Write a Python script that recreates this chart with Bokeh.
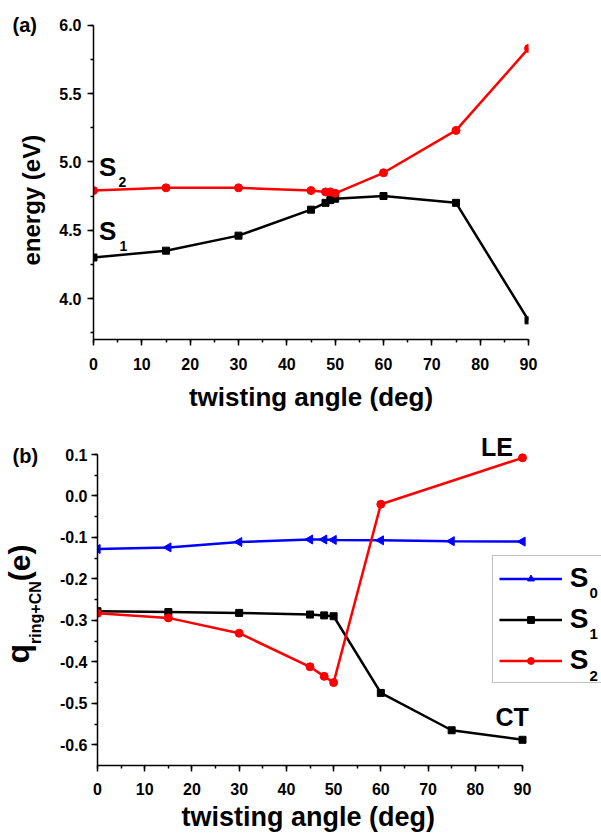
import numpy as np
from bokeh.plotting import figure
from bokeh.models import (Range1d, SingleIntervalTicker, PrintfTickFormatter,
                          Label, Legend, LegendItem, Title)
from bokeh.layouts import column, row
from bokeh.embed import file_html
from bokeh.resources import INLINE

FONT = "Liberation Sans"

# ---------------- data: panel (a) ----------------
angle_a = [0, 15, 30, 45, 48, 49, 50, 60, 75, 90]
energy_S1 = [4.30, 4.35, 4.46, 4.65, 4.70, 4.72, 4.73, 4.75, 4.70, 3.84]
energy_S2 = [4.79, 4.81, 4.81, 4.79, 4.78, 4.78, 4.77, 4.92, 5.23, 5.83]

# ---------------- data: panel (b) ----------------
angle_b = [0, 15, 30, 45, 48, 50, 60, 75, 90]
q_S0 = [-0.128, -0.124, -0.111, -0.105, -0.105, -0.106, -0.107, -0.109, -0.110]
q_S1 = [-0.278, -0.280, -0.282, -0.286, -0.288, -0.290, -0.475, -0.565, -0.588]
angle_b_S2 = [0, 15, 30, 45, 48, 50, 60, 90]
q_S2 = [-0.283, -0.294, -0.331, -0.412, -0.435, -0.450, -0.020, 0.092]

x_title = "twisting angle (deg)"
legend_names = ["S", "S", "S"]
legend_subs = ["0", "1", "2"]

# ---------------- geometry (pixels) ----------------
STRIP_W = 46
W_MAIN = 601 - STRIP_W
H_A, H_B = 414, 423
A_X0, A_X90, A_YTOP, A_YBOT = 93, 528, 25, 343
B_X0, B_X90, B_YTOP, B_YBOT = 97, 522, 454, 765
B_TOP = H_A

a_ppx = (A_X90 - A_X0) / 90.0
a_ppy = (A_YBOT - A_YTOP) / (6.0 - 3.7)
b_ppx = (B_X90 - B_X0) / 90.0
b_ppy = (B_YBOT - B_YTOP) / (0.1 - (-0.65))

MID = 0.3465  # baseline offset of the anchor (fraction of font size)


def ax_(px):
    return (px - A_X0) / a_ppx


def ay_(py):
    return 6.0 - (py - A_YTOP) / a_ppy


def bx_(px):
    return (px - B_X0) / b_ppx


def by_(py):
    return 0.1 - (py - B_YTOP) / b_ppy


def style(p, y_interval, ybounds, tick_standoff, ytick_standoff):
    p.xaxis.ticker = SingleIntervalTicker(interval=10, num_minor_ticks=2)
    p.yaxis.ticker = SingleIntervalTicker(interval=y_interval, num_minor_ticks=2)
    p.yaxis.formatter = PrintfTickFormatter(format="%.1f")
    p.yaxis.bounds = ybounds
    for ax in p.axis:
        ax.axis_line_width = 1.5
        ax.axis_line_color = "black"
        ax.major_tick_line_width = 1.5
        ax.minor_tick_line_width = 1.5
        ax.major_tick_line_color = "black"
        ax.minor_tick_line_color = "black"
        ax.major_tick_in = 0
        ax.major_tick_out = 6
        ax.minor_tick_in = 0
        ax.minor_tick_out = 3
        ax.major_label_text_font = FONT
        ax.major_label_text_font_style = "bold"
        ax.major_label_text_font_size = "16px"
        ax.major_label_text_color = "black"
    p.xaxis.major_label_standoff = tick_standoff
    p.yaxis.major_label_standoff = ytick_standoff
    p.grid.visible = False
    p.outline_line_color = None
    p.background_fill_color = "white"
    p.border_fill_color = "white"


def lab(p, text, x, y, size, angle=0.0, align="left", level="annotation"):
    p.add_layout(Label(x=x, y=y, x_units="data", y_units="data", text=text,
                       text_font=FONT, text_font_style="bold", text_font_size=f"{size}px",
                       text_color="black", text_align=align, text_baseline="alphabetic",
                       angle=angle, level=level))


def strip(height, ytop, ybot):
    s = figure(width=STRIP_W, height=height, output_backend="svg", toolbar_location=None,
               x_axis_type=None, y_axis_type=None,
               x_range=Range1d(0, STRIP_W), y_range=Range1d(ybot, ytop),
               min_border_left=0, min_border_right=0, min_border_top=0,
               min_border_bottom=height - (ybot - ytop), title=None)
    s.grid.visible = False
    s.outline_line_color = None
    s.background_fill_color = "white"
    s.border_fill_color = "white"
    return s


# ---------------- panel (a) ----------------
p1 = figure(width=W_MAIN, height=H_A, output_backend="svg", toolbar_location=None,
            x_range=Range1d(0, 90), y_range=Range1d(3.7, ay_(0)),
            min_border_left=A_X0 - STRIP_W, min_border_right=601 - A_X90, min_border_top=0,
            min_border_bottom=H_A - A_YBOT, title=None)
style(p1, 0.5, (3.7, 6.0), 12, 6)
p1.xaxis.axis_label = x_title
p1.xaxis.axis_label_text_font = FONT
p1.xaxis.axis_label_text_font_style = "bold"
p1.xaxis.axis_label_text_font_size = "26px"
p1.xaxis.axis_label_text_color = "black"
p1.xaxis.axis_label_standoff = 9

p1.line(angle_a, energy_S1, line_color="black", line_width=2.5)
p1.scatter(angle_a, energy_S1, marker="square", size=7, color="black")
p1.line(angle_a, energy_S2, line_color="red", line_width=2.5)
p1.scatter(angle_a, energy_S2, marker="circle", size=8, color="red")

lab(p1, "S", ax_(98.5), ay_(177 - MID * 26), 26)
lab(p1, "2", ax_(118), ay_(188 - MID * 14), 14)
lab(p1, "S", ax_(98.5), ay_(242 - MID * 26), 26)
lab(p1, "1", ax_(119), ay_(253 - MID * 14), 14)

s1 = strip(H_A, 0, A_YBOT)
lab(s1, "(a)", 12, 32 - MID * 20, 20)
lab(s1, "energy (eV)", 39.5 - MID * 24, 202, 24, angle=np.pi / 2, align="center")

# ---------------- panel (b) ----------------
p2 = figure(width=W_MAIN, height=H_B, output_backend="svg", toolbar_location=None,
            x_range=Range1d(0, bx_(601)), y_range=Range1d(-0.65, by_(B_TOP)),
            min_border_left=B_X0 - STRIP_W, min_border_right=0, min_border_top=0,
            min_border_bottom=B_TOP + H_B - B_YBOT, title=None)
style(p2, 0.1, (-0.65, 0.1), 11, 4)
p2.xaxis.bounds = (0, 90)
p2.add_layout(Title(text=x_title, align="left", offset=181 - B_X0,
                    standoff=8, vertical_align="top", text_font=FONT,
                    text_font_style="bold", text_font_size="27px", text_color="black"),
              "below")

l0 = p2.line(angle_b, q_S0, line_color="blue", line_width=2.5)
m0 = p2.scatter(angle_b, q_S0, marker="triangle", angle=np.pi / 2, size=9, color="blue")
l1 = p2.line(angle_b, q_S1, line_color="black", line_width=2.5)
m1 = p2.scatter(angle_b, q_S1, marker="square", size=7, color="black")
l2 = p2.line(angle_b_S2, q_S2, line_color="red", line_width=2.5)
m2 = p2.scatter(angle_b_S2, q_S2, marker="circle", size=8, color="red")

legend = Legend(items=[LegendItem(label=legend_names[0], renderers=[l0, m0]),
                       LegendItem(label=legend_names[1], renderers=[l1, m1]),
                       LegendItem(label=legend_names[2], renderers=[l2, m2])],
                location=(491.7 - B_X0, B_YBOT - 683.3), orientation="vertical",
                glyph_width=63, glyph_height=17, label_height=30, label_width=50,
                label_standoff=8, spacing=9, padding=6, margin=0,
                label_text_font=FONT, label_text_font_style="bold",
                label_text_font_size="28px", label_text_color="black",
                border_line_color="#808080", border_line_width=1.5,
                background_fill_color="white", background_fill_alpha=0.0)
p2.add_layout(legend, "center")

for sub, py in zip(legend_subs, [597.4, 639.1, 680.8]):
    lab(p2, sub, bx_(589), by_(py - MID * 15), 15, level="overlay")

lab(p2, "LE", bx_(480.5), by_(455 - MID * 25), 25)
lab(p2, "CT", bx_(495), by_(725 - MID * 25), 25)

s2 = strip(H_B, B_TOP, B_YBOT)
lab(s2, "(b)", 12, 462 - MID * 20, 20)
lab(s2, "q", 29 - MID * 32, 663, 32, angle=np.pi / 2)
lab(s2, "ring+CN", 41 - MID * 16, 643.4, 16, angle=np.pi / 2)
lab(s2, "(e)", 29 - MID * 30, 580.7, 30, angle=np.pi / 2)

layout = column(row(s1, p1, spacing=0), row(s2, p2, spacing=0), spacing=0)
open("out.html", "w").write(file_html(layout, INLINE))
